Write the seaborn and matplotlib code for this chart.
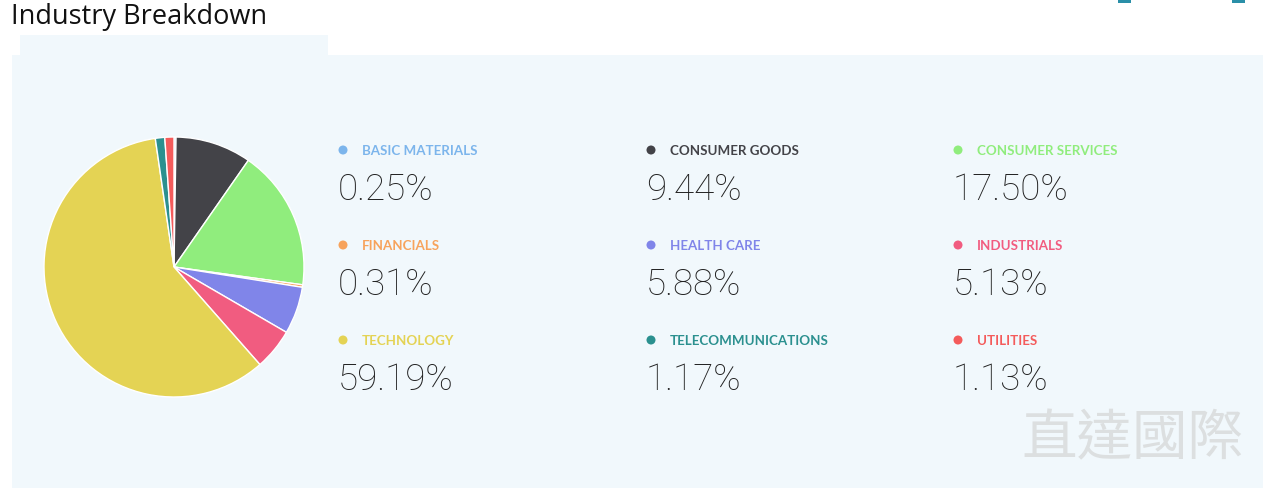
import matplotlib
matplotlib.use("Agg")
import matplotlib.pyplot as plt
import seaborn as sns
from matplotlib.patches import Rectangle, Circle

# ---- data ----
categories = ["BASIC MATERIALS", "CONSUMER GOODS", "CONSUMER SERVICES",
              "FINANCIALS", "HEALTH CARE", "INDUSTRIALS",
              "TECHNOLOGY", "TELECOMMUNICATIONS", "UTILITIES"]
values = [0.25, 9.44, 17.50, 0.31, 5.88, 5.13, 59.19, 1.17, 1.13]
value_labels = ["0.25%", "9.44%", "17.50%", "0.31%", "5.88%", "5.13%",
                "59.19%", "1.17%", "1.13%"]
hex_colors = ["#7cb5ec", "#434348", "#90ed7d", "#f7a35c", "#8085e9",
              "#f15c80", "#e4d354", "#2b908f", "#f45b5b"]
title = "Industry Breakdown"
watermark = "直達國際"

sns.set_theme(style="white")
plt.rcParams["font.family"] = ["Open Sans", "DejaVu Sans"]
palette = sns.color_palette(hex_colors)

W, H = 1268, 492
fig = plt.figure(figsize=(W / 100, H / 100), dpi=100)
fig.patch.set_facecolor("white")

# full-figure pixel axes for background and text
bg = fig.add_axes([0, 0, 1, 1])
bg.set_xlim(0, W)
bg.set_ylim(H, 0)
bg.axis("off")
panel = "#f1f8fc"
bg.add_patch(Rectangle((12, 55), 1251, 433, color=panel, lw=0))
bg.add_patch(Rectangle((20, 35), 308, 20, color=panel, lw=0))
# partial icons at top-right (cut off)
bg.add_patch(Rectangle((1118, 0), 13, 3, color="#2a8fa8", lw=0))
bg.add_patch(Rectangle((1232, 0), 13, 3, color="#2a8fa8", lw=0))

bg.text(11, 17, title, fontsize=19.5, color="#111111", va="center", ha="left",
        family=["Open Sans", "DejaVu Sans"])

col_x = [340, 648, 955]
row_y = [150, 245, 340]
for i, (cat, lab, col) in enumerate(zip(categories, value_labels, palette)):
    r, c = divmod(i, 3)
    x, y = col_x[c], row_y[r]
    bg.add_patch(Circle((x + 3, y), 4.5, color=col, lw=0))
    bg.text(x + 22, y + 1, cat, fontsize=9.6, fontweight="bold", color=col,
            va="center", ha="left", family=["Lato", "DejaVu Sans"])
    bg.text(x - 2, y + 40, lab, fontsize=26.5, fontweight="light", color="#222222",
            va="center", ha="left", family=["Roboto", "DejaVu Sans"])

bg.text(1132, 440, watermark, fontsize=40, color="#dcdfe0", va="center",
        ha="center", family=["Noto Sans CJK TC", "DejaVu Sans"])

# pie
cx, cy, rad = 174, 267, 130
pie_ax = fig.add_axes([(cx - rad) / W, (H - cy - rad) / H, 2 * rad / W, 2 * rad / H])
pie_ax.pie(values, colors=palette, startangle=90, counterclock=False,
           wedgeprops=dict(edgecolor="white", linewidth=1))
pie_ax.set_xlim(-1, 1)
pie_ax.set_ylim(-1, 1)
pie_ax.set_aspect("equal")
pie_ax.axis("off")

fig.savefig("out.png", dpi=100)
